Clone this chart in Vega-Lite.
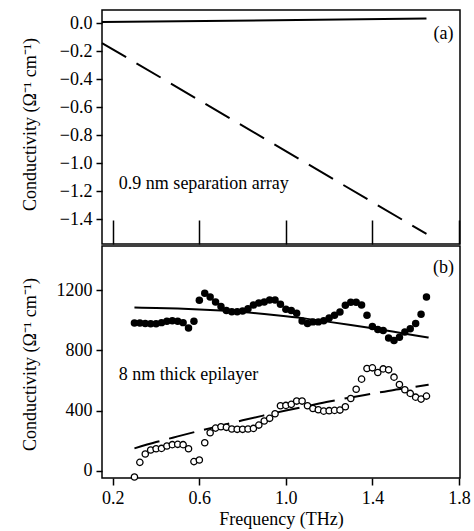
{
  "$schema": "https://vega.github.io/schema/vega-lite/v6.json",
  "padding": {"left": 20, "top": 9, "right": 2, "bottom": 2},
  "spacing": -4,
  "config": {
    "font": "Liberation Serif",
    "view": {"stroke": "#000", "strokeWidth": 1.5},
    "axis": {
      "labelFont": "Liberation Serif", "titleFont": "Liberation Serif",
      "labelFontSize": 18, "titleFontSize": 18, "titleFontWeight": "normal",
      "labelColor": "#000", "titleColor": "#000", "tickColor": "#000", "tickWidth": 1.5,
      "domain": false, "grid": false, "labelOverlap": false
    },
    "style": {
      "guide-label": {"font": "Liberation Serif", "fontSize": 18, "fill": "#000"},
      "guide-title": {"font": "Liberation Serif", "fontSize": 18, "fill": "#000", "fontWeight": "normal"}
    },
    "text": {"font": "Liberation Serif", "fontSize": 18, "color": "#000"}
  },
  "datasets": {
    "topLines": [
      {"f": 0.15, "v": 0.01, "s": "solid"}, {"f": 1.65, "v": 0.035, "s": "solid"},
      {"f": 0.15, "v": -0.14, "s": "dashed"}, {"f": 1.65, "v": -1.504, "s": "dashed"}
    ],
    "points": [
      {"f": 0.300, "v": 983, "t": "filled"}, {"f": 0.325, "v": 983, "t": "filled"}, {"f": 0.350, "v": 980, "t": "filled"}, {"f": 0.375, "v": 978, "t": "filled"}, {"f": 0.400, "v": 978, "t": "filled"},
      {"f": 0.425, "v": 985, "t": "filled"}, {"f": 0.450, "v": 994, "t": "filled"}, {"f": 0.475, "v": 998, "t": "filled"}, {"f": 0.500, "v": 994, "t": "filled"}, {"f": 0.525, "v": 985, "t": "filled"},
      {"f": 0.550, "v": 950, "t": "filled"}, {"f": 0.575, "v": 994, "t": "filled"}, {"f": 0.600, "v": 1134, "t": "filled"}, {"f": 0.625, "v": 1180, "t": "filled"}, {"f": 0.650, "v": 1156, "t": "filled"},
      {"f": 0.675, "v": 1122, "t": "filled"}, {"f": 0.700, "v": 1092, "t": "filled"}, {"f": 0.725, "v": 1065, "t": "filled"}, {"f": 0.750, "v": 1058, "t": "filled"}, {"f": 0.775, "v": 1058, "t": "filled"},
      {"f": 0.800, "v": 1063, "t": "filled"}, {"f": 0.825, "v": 1078, "t": "filled"}, {"f": 0.850, "v": 1103, "t": "filled"}, {"f": 0.875, "v": 1116, "t": "filled"}, {"f": 0.900, "v": 1122, "t": "filled"},
      {"f": 0.925, "v": 1136, "t": "filled"}, {"f": 0.950, "v": 1136, "t": "filled"}, {"f": 0.975, "v": 1107, "t": "filled"}, {"f": 1.000, "v": 1074, "t": "filled"}, {"f": 1.025, "v": 1065, "t": "filled"},
      {"f": 1.050, "v": 1047, "t": "filled"}, {"f": 1.075, "v": 996, "t": "filled"}, {"f": 1.100, "v": 979, "t": "filled"}, {"f": 1.125, "v": 990, "t": "filled"}, {"f": 1.150, "v": 990, "t": "filled"},
      {"f": 1.175, "v": 998, "t": "filled"}, {"f": 1.200, "v": 1016, "t": "filled"}, {"f": 1.225, "v": 1034, "t": "filled"}, {"f": 1.250, "v": 1056, "t": "filled"}, {"f": 1.275, "v": 1100, "t": "filled"},
      {"f": 1.300, "v": 1120, "t": "filled"}, {"f": 1.325, "v": 1120, "t": "filled"}, {"f": 1.350, "v": 1103, "t": "filled"}, {"f": 1.375, "v": 1034, "t": "filled"}, {"f": 1.400, "v": 959, "t": "filled"},
      {"f": 1.425, "v": 939, "t": "filled"}, {"f": 1.450, "v": 932, "t": "filled"}, {"f": 1.475, "v": 883, "t": "filled"}, {"f": 1.500, "v": 866, "t": "filled"}, {"f": 1.525, "v": 888, "t": "filled"},
      {"f": 1.550, "v": 923, "t": "filled"}, {"f": 1.575, "v": 945, "t": "filled"}, {"f": 1.600, "v": 979, "t": "filled"}, {"f": 1.625, "v": 1041, "t": "filled"}, {"f": 1.650, "v": 1156, "t": "filled"},
      {"f": 0.300, "v": -42, "t": "open"}, {"f": 0.325, "v": 55, "t": "open"}, {"f": 0.350, "v": 111, "t": "open"}, {"f": 0.375, "v": 137, "t": "open"}, {"f": 0.400, "v": 146, "t": "open"},
      {"f": 0.425, "v": 148, "t": "open"}, {"f": 0.450, "v": 164, "t": "open"}, {"f": 0.475, "v": 173, "t": "open"}, {"f": 0.500, "v": 175, "t": "open"}, {"f": 0.525, "v": 173, "t": "open"},
      {"f": 0.550, "v": 146, "t": "open"}, {"f": 0.575, "v": 60, "t": "open"}, {"f": 0.600, "v": 71, "t": "open"}, {"f": 0.625, "v": 186, "t": "open"}, {"f": 0.650, "v": 252, "t": "open"},
      {"f": 0.675, "v": 283, "t": "open"}, {"f": 0.700, "v": 292, "t": "open"}, {"f": 0.725, "v": 288, "t": "open"}, {"f": 0.750, "v": 277, "t": "open"}, {"f": 0.775, "v": 275, "t": "open"},
      {"f": 0.800, "v": 275, "t": "open"}, {"f": 0.825, "v": 277, "t": "open"}, {"f": 0.850, "v": 281, "t": "open"}, {"f": 0.875, "v": 303, "t": "open"}, {"f": 0.900, "v": 330, "t": "open"},
      {"f": 0.925, "v": 348, "t": "open"}, {"f": 0.950, "v": 379, "t": "open"}, {"f": 0.975, "v": 432, "t": "open"}, {"f": 1.000, "v": 434, "t": "open"}, {"f": 1.025, "v": 441, "t": "open"},
      {"f": 1.050, "v": 463, "t": "open"}, {"f": 1.075, "v": 463, "t": "open"}, {"f": 1.100, "v": 432, "t": "open"}, {"f": 1.125, "v": 414, "t": "open"}, {"f": 1.150, "v": 405, "t": "open"},
      {"f": 1.175, "v": 396, "t": "open"}, {"f": 1.200, "v": 399, "t": "open"}, {"f": 1.225, "v": 401, "t": "open"}, {"f": 1.250, "v": 403, "t": "open"}, {"f": 1.275, "v": 425, "t": "open"},
      {"f": 1.300, "v": 480, "t": "open"}, {"f": 1.325, "v": 542, "t": "open"}, {"f": 1.350, "v": 609, "t": "open"}, {"f": 1.375, "v": 680, "t": "open"}, {"f": 1.400, "v": 684, "t": "open"},
      {"f": 1.425, "v": 653, "t": "open"}, {"f": 1.450, "v": 677, "t": "open"}, {"f": 1.475, "v": 671, "t": "open"}, {"f": 1.500, "v": 622, "t": "open"}, {"f": 1.525, "v": 573, "t": "open"},
      {"f": 1.550, "v": 538, "t": "open"}, {"f": 1.575, "v": 514, "t": "open"}, {"f": 1.600, "v": 489, "t": "open"}, {"f": 1.625, "v": 476, "t": "open"}, {"f": 1.650, "v": 496, "t": "open"}
    ],
    "fits": [
      {"f": 0.30, "v": 1085, "s": "solid"}, {"f": 0.40, "v": 1083, "s": "solid"}, {"f": 0.50, "v": 1079, "s": "solid"}, {"f": 0.60, "v": 1073, "s": "solid"},
      {"f": 0.70, "v": 1065, "s": "solid"}, {"f": 0.80, "v": 1055, "s": "solid"}, {"f": 0.90, "v": 1042, "s": "solid"}, {"f": 1.00, "v": 1027, "s": "solid"},
      {"f": 1.10, "v": 1010, "s": "solid"}, {"f": 1.20, "v": 990, "s": "solid"}, {"f": 1.30, "v": 969, "s": "solid"}, {"f": 1.40, "v": 947, "s": "solid"},
      {"f": 1.50, "v": 924, "s": "solid"}, {"f": 1.60, "v": 900, "s": "solid"}, {"f": 1.66, "v": 886, "s": "solid"},
      {"f": 0.30, "v": 148, "s": "dashed"}, {"f": 0.40, "v": 190, "s": "dashed"}, {"f": 0.50, "v": 228, "s": "dashed"}, {"f": 0.60, "v": 265, "s": "dashed"},
      {"f": 0.70, "v": 300, "s": "dashed"}, {"f": 0.80, "v": 335, "s": "dashed"}, {"f": 0.90, "v": 368, "s": "dashed"}, {"f": 1.00, "v": 400, "s": "dashed"},
      {"f": 1.10, "v": 430, "s": "dashed"}, {"f": 1.20, "v": 460, "s": "dashed"}, {"f": 1.30, "v": 487, "s": "dashed"}, {"f": 1.40, "v": 512, "s": "dashed"},
      {"f": 1.50, "v": 537, "s": "dashed"}, {"f": 1.60, "v": 558, "s": "dashed"}, {"f": 1.66, "v": 572, "s": "dashed"}
    ],
    "one": [{}]
  },
  "vconcat": [
    {
      "width": 358, "height": 234,
      "layer": [
        {
          "data": {"name": "topLines"},
          "transform": [{"filter": "datum.s === 'solid'"}],
          "mark": {"type": "line", "color": "#000", "strokeWidth": 2},
          "encoding": {
            "x": {"field": "f", "type": "quantitative",
              "scale": {"domain": [0.15, 1.805], "nice": false, "zero": false},
              "axis": {"values": [0.2, 0.6, 1.0, 1.4, 1.8], "tickCount": 20, "labels": false, "title": null, "tickSize": -24,
                "minExtent": 0, "maxExtent": 0, "offset": 0, "labelPadding": 0}},
            "y": {"field": "v", "type": "quantitative",
              "scale": {"domain": [-1.576, 0.096], "nice": false, "zero": false},
              "axis": {"values": [0, -0.2, -0.4, -0.6, -0.8, -1.0, -1.2, -1.4], "tickCount": 20,
                "format": ".1f",
                "labelFont": "Liberation Serif", "labelFontSize": 18, "labelOverlap": false,
                "title": "Conductivity (Ω⁻¹ cm⁻¹)", "tickSize": 6, "labelPadding": 4,
                "titleAngle": 270, "titleBaseline": "alphabetic", "titleX": -67, "titleY": 114}}
          }
        },
        {
          "data": {"name": "topLines"},
          "transform": [{"filter": "datum.s === 'dashed'"}],
          "mark": {"type": "line", "color": "#000", "strokeWidth": 2, "strokeDash": [28, 12]},
          "encoding": {
            "x": {"field": "f", "type": "quantitative"},
            "y": {"field": "v", "type": "quantitative"}
          }
        },
        {
          "data": {"name": "one"},
          "mark": {"type": "text", "text": "0.9 nm separation array", "align": "left", "baseline": "middle"},
          "encoding": {"x": {"datum": 0.228}, "y": {"datum": -1.146}}
        },
        {
          "data": {"name": "one"},
          "mark": {"type": "text", "text": "(a)", "align": "center", "baseline": "middle"},
          "encoding": {"x": {"datum": 1.729}, "y": {"datum": -0.074}}
        }
      ]
    },
    {
      "width": 358, "height": 232,
      "layer": [
        {
          "data": {"name": "fits"},
          "transform": [{"filter": "datum.s === 'solid'"}],
          "mark": {"type": "line", "color": "#000", "strokeWidth": 2, "interpolate": "monotone"},
          "encoding": {
            "x": {"field": "f", "type": "quantitative",
              "scale": {"domain": [0.15, 1.805], "nice": false, "zero": false},
              "axis": {"values": [0.2, 0.6, 1.0, 1.4, 1.8], "tickCount": 20, "format": ".1f", "title": "Frequency (THz)",
                "labelFont": "Liberation Serif", "labelFontSize": 18, "labelOverlap": false,
                "tickSize": 7, "labelPadding": 4, "titleBaseline": "alphabetic", "titleY": 46, "titleX": 179}},
            "y": {"field": "v", "type": "quantitative",
              "scale": {"domain": [-49, 1495], "nice": false, "zero": false},
              "axis": {"values": [0, 400, 800, 1200], "tickCount": 20, "format": "d",
                "labelFont": "Liberation Serif", "labelFontSize": 18, "labelOverlap": false,
                "title": "Conductivity (Ω⁻¹ cm⁻¹)", "tickSize": 6, "labelPadding": 4,
                "titleAngle": 270, "titleBaseline": "alphabetic", "titleX": -67, "titleY": 118}}
          }
        },
        {
          "data": {"name": "fits"},
          "transform": [{"filter": "datum.s === 'dashed'"}],
          "mark": {"type": "line", "color": "#000", "strokeWidth": 2, "strokeDash": [26, 10], "interpolate": "monotone"},
          "encoding": {
            "x": {"field": "f", "type": "quantitative"},
            "y": {"field": "v", "type": "quantitative"}
          }
        },
        {
          "data": {"name": "points"},
          "transform": [{"filter": "datum.t === 'filled'"}],
          "mark": {"type": "point", "shape": "circle", "filled": true, "color": "#000", "size": 56, "opacity": 1},
          "encoding": {
            "x": {"field": "f", "type": "quantitative"},
            "y": {"field": "v", "type": "quantitative"}
          }
        },
        {
          "data": {"name": "points"},
          "transform": [{"filter": "datum.t === 'open'"}],
          "mark": {"type": "point", "shape": "circle", "filled": false, "fill": "#fff", "fillOpacity": 1, "stroke": "#000", "strokeWidth": 1.3, "size": 40, "opacity": 1},
          "encoding": {
            "x": {"field": "f", "type": "quantitative"},
            "y": {"field": "v", "type": "quantitative"}
          }
        },
        {
          "data": {"name": "one"},
          "mark": {"type": "text", "text": "8 nm thick epilayer", "align": "left", "baseline": "middle"},
          "encoding": {"x": {"datum": 0.228}, "y": {"datum": 635}}
        },
        {
          "data": {"name": "one"},
          "mark": {"type": "text", "text": "(b)", "align": "center", "baseline": "middle"},
          "encoding": {"x": {"datum": 1.729}, "y": {"datum": 1351}}
        }
      ]
    }
  ]
}
